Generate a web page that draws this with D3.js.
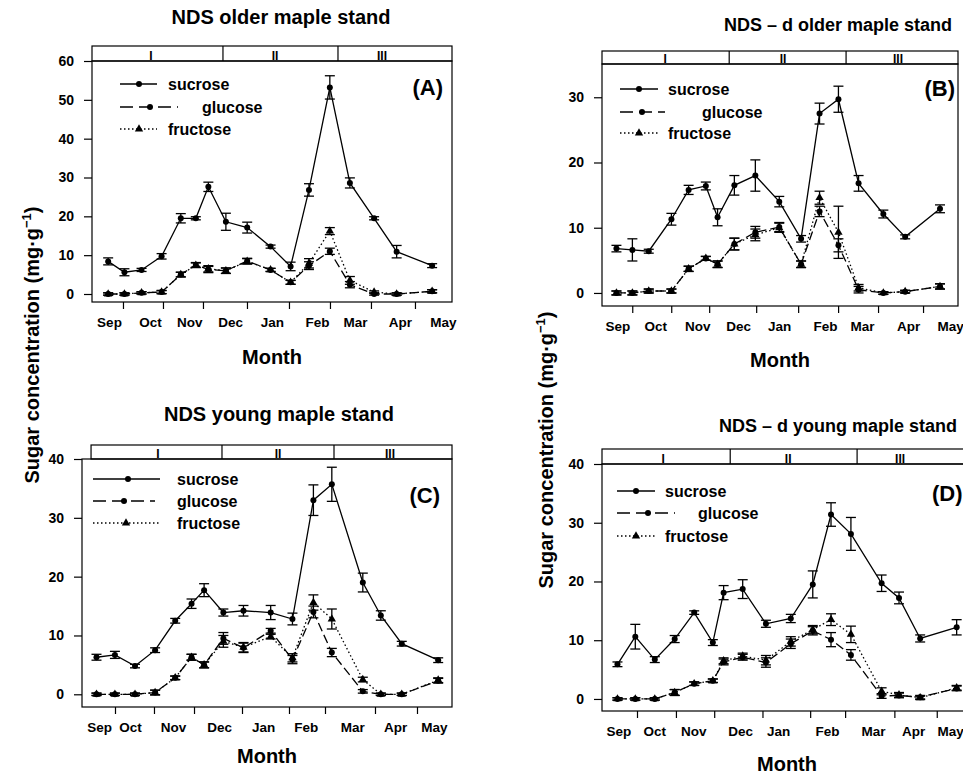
<!DOCTYPE html>
<html>
<head>
<meta charset="utf-8">
<script src="https://cdn.jsdelivr.net/npm/d3@7"></script>
<style>
  body { margin: 0; background: #fff; }
  svg text { font-family: "Liberation Sans", Arial, Helvetica, sans-serif; font-weight: bold; fill: #000; }
</style>
</head>
<body>
<svg id="chart" width="963" height="777"></svg>
<script>
// categories
const monthLabels = ["Sep", "Oct", "Nov", "Dec", "Jan", "Feb", "Mar", "Apr", "May"];
const periodLabels = ["I", "II", "III"];
const seriesNames = ["sucrose", "glucose", "fructose"];

// (A) NDS older maple stand - sample dates (month units, Sep = 0)
const datesA = [-0.02, 0.37, 0.78, 1.26, 1.72, 2.08, 2.38, 2.80, 3.31, 3.87, 4.35, 4.79, 5.29, 5.77, 6.35, 6.89, 7.74];
const sucroseA = [8.4, 5.6, 6.2, 9.7, 19.5, 19.5, 27.6, 18.6, 17.1, 12.2, 7.1, 26.8, 53.2, 28.6, 19.5, 10.9, 7.3];
const sucroseSeA = [0.9, 0.9, 0.4, 0.7, 1.2, 0.4, 1.2, 2.2, 1.4, 0.4, 1.1, 1.6, 3.0, 1.3, 0.4, 1.6, 0.5];
const glucoseA = [0, 0, 0.3, 0.5, 5.0, 7.5, 6.3, 6.0, 8.5, 6.2, 3.0, 7.3, 11.0, 2.4, 0, 0, 0.7];
const glucoseSeA = [0.3, 0.3, 0.3, 0.4, 0.6, 0.6, 0.8, 0.7, 0.7, 0.4, 0.5, 1.0, 0.8, 0.8, 0.3, 0.3, 0.4];
const fructoseA = [0, 0, 0.3, 0.5, 5.0, 7.4, 6.5, 6.0, 8.4, 6.2, 3.0, 7.9, 16.2, 3.5, 0.5, 0, 0.7];
const fructoseSeA = [0.3, 0.3, 0.3, 0.4, 0.6, 0.6, 0.8, 0.7, 0.7, 0.4, 0.5, 1.2, 0.9, 1.0, 0.3, 0.3, 0.4];

// (B) NDS - d older maple stand
const datesB = [-0.02, 0.36, 0.75, 1.29, 1.70, 2.11, 2.39, 2.79, 3.29, 3.86, 4.38, 4.82, 5.27, 5.75, 6.34, 6.86, 7.69];
const sucroseB = [6.8, 6.6, 6.4, 11.3, 15.8, 16.4, 11.6, 16.5, 18.0, 14.0, 8.3, 27.5, 29.7, 16.8, 12.1, 8.6, 12.9];
const sucroseSeB = [0.5, 1.7, 0.3, 0.9, 0.7, 0.6, 1.3, 1.5, 2.4, 0.8, 0.5, 1.6, 2.0, 1.2, 0.6, 0.3, 0.6];
const glucoseB = [0, 0, 0.3, 0.3, 3.7, 5.3, 4.4, 7.5, 9.3, 10.1, 4.4, 12.5, 7.3, 0.5, 0, 0.2, 1.0];
const glucoseSeB = [0.3, 0.3, 0.3, 0.3, 0.4, 0.3, 0.5, 0.9, 0.9, 0.7, 0.5, 0.8, 1.0, 0.5, 0.2, 0.2, 0.4];
const fructoseB = [0, 0, 0.3, 0.3, 3.7, 5.3, 4.4, 7.5, 8.9, 10.0, 4.4, 14.6, 9.3, 0.8, 0, 0.2, 1.0];
const fructoseSeB = [0.3, 0.3, 0.3, 0.3, 0.4, 0.3, 0.5, 0.9, 0.9, 0.7, 0.5, 1.0, 4.0, 0.5, 0.2, 0.2, 0.4];

// (C) NDS young maple stand
const datesC = [-0.06, 0.38, 0.86, 1.34, 1.82, 2.21, 2.51, 2.97, 3.45, 4.10, 4.62, 5.12, 5.56, 6.30, 6.73, 7.23, 8.10];
const sucroseC = [6.3, 6.7, 4.8, 7.5, 12.5, 15.4, 17.7, 13.9, 14.2, 13.9, 12.8, 33.0, 35.7, 19.0, 13.4, 8.6, 5.8];
const sucroseSeC = [0.5, 0.6, 0.3, 0.4, 0.4, 0.8, 1.1, 0.6, 0.9, 1.2, 1.0, 2.6, 2.9, 1.6, 0.8, 0.4, 0.4];
const glucoseC = [0, 0, 0, 0.3, 2.8, 6.3, 5.0, 9.5, 7.9, 10.8, 5.9, 14.0, 7.1, 0.5, 0, 0, 2.3];
const glucoseSeC = [0.2, 0.2, 0.2, 0.4, 0.3, 0.5, 0.5, 1.0, 0.8, 0.4, 0.7, 1.0, 0.7, 0.3, 0.2, 0.2, 0.4];
const fructoseC = [0, 0, 0, 0.3, 2.8, 6.3, 5.0, 9.0, 8.0, 9.8, 6.2, 15.6, 12.8, 2.5, 0, 0, 2.4];
const fructoseSeC = [0.2, 0.2, 0.2, 0.4, 0.3, 0.5, 0.5, 1.0, 0.8, 0.4, 0.7, 1.3, 1.7, 0.4, 0.2, 0.2, 0.4];

// (D) NDS - d young maple stand
const datesD = [-0.02, 0.41, 0.88, 1.36, 1.83, 2.28, 2.54, 3.00, 3.56, 4.16, 4.69, 5.13, 5.61, 6.35, 6.77, 7.28, 8.16];
const sucroseD = [5.9, 10.6, 6.7, 10.2, 14.7, 9.6, 18.1, 18.7, 12.8, 13.7, 19.5, 31.4, 28.1, 19.7, 17.2, 10.3, 12.2];
const sucroseSeD = [0.4, 2.1, 0.5, 0.6, 0.3, 0.5, 1.2, 1.6, 0.6, 0.7, 2.3, 2.0, 2.8, 1.4, 1.0, 0.6, 1.3];
const glucoseD = [0, 0, 0, 1.1, 2.6, 3.1, 6.3, 7.1, 6.2, 9.4, 11.6, 10.1, 7.5, 0.5, 0.6, 0.3, 1.8];
const glucoseSeD = [0.2, 0.2, 0.2, 0.5, 0.3, 0.3, 0.5, 0.5, 0.8, 0.8, 0.7, 1.2, 0.9, 0.4, 0.4, 0.3, 0.4];
const fructoseD = [0, 0, 0, 1.1, 2.6, 3.1, 6.5, 7.3, 6.6, 9.8, 11.8, 13.5, 11.0, 1.3, 0.7, 0.2, 1.9];
const fructoseSeD = [0.2, 0.2, 0.2, 0.5, 0.3, 0.3, 0.5, 0.5, 0.8, 0.8, 0.7, 1.0, 1.4, 0.6, 0.4, 0.3, 0.4];

// axis tick / label positions (month units)
const tickPosA = [0.335, 1.293, 2.251, 3.305, 4.311, 5.293, 6.275, 7.329];
const labelPosA = [0, 0.98, 1.92, 2.90, 3.90, 4.98, 5.89, 6.97, 8];
const tickPosB = [0.357, 1.286, 2.190, 3.310, 4.310, 5.262, 6.214, 7.286];
const labelPosB = [0, 0.905, 1.905, 2.881, 3.857, 4.952, 5.833, 6.929, 7.93];
const tickPosC = [0.382, 1.313, 2.269, 3.415, 4.537, 5.397, 6.591, 7.594];
const labelPosC = [0, 0.74, 1.77, 2.87, 3.92, 4.94, 6.05, 7.07, 8];
const tickPosD = [0.451, 1.390, 2.313, 3.477, 4.627, 5.470, 6.658, 7.680];
const labelPosD = [0, 0.867, 1.807, 2.940, 3.855, 5.036, 6.145, 7.108, 8];

// period strip breaks and label positions (month units)
const stripBreaksA = [2.73, 5.485], stripLabelPosA = [1.006, 3.976, 6.539];
const stripBreaksB = [2.667, 5.452], stripLabelPosB = [1.143, 3.952, 6.69];
const stripBreaksC = [2.937, 5.612], stripLabelPosC = [1.409, 4.275, 6.95];
const stripBreaksD = [2.699, 5.759], stripLabelPosD = [1.084, 4.096, 6.795];

const yTicks60 = [0, 10, 20, 30, 40, 50, 60];
const yTicks30 = [0, 10, 20, 30];
const yTicks40 = [0, 10, 20, 30, 40];

// layout of the four panels
const panels = [
  {
    tag: "(A)", title: "NDS older maple stand", titleX: 281, titleY: 24, titleSize: 20,
    left: 92, right: 452, top: 61, bottom: 302, stripTop: 46,
    xDomain: [-0.407, 8.216], yDomain: [-2.06, 60], yTicks: yTicks60,
    dates: datesA, ticks: tickPosA, labels: labelPosA, stripStart: -0.407,
    stripBreaks: stripBreaksA, stripLabels: stripLabelPosA,
    values: [[sucroseA, sucroseSeA], [glucoseA, glucoseSeA], [fructoseA, fructoseSeA]],
    legend: { rows: [84, 107, 129], lines: [[120, 157], [120, 178], [120, 157]], marks: [139, 150, 139], texts: [168, 202, 168] },
    tagX: 443, tagY: 95, tagAnchor: "end", monthY: 364
  },
  {
    tag: "(B)", title: "NDS \u2013 d older maple stand", titleX: 838, titleY: 31, titleSize: 18,
    left: 602, right: 958, top: 64, bottom: 306, stripTop: 51,
    xDomain: [-0.364, 8.119], yDomain: [-2.0, 35.1], yTicks: yTicks30,
    dates: datesB, ticks: tickPosB, labels: labelPosB, stripStart: -0.364,
    stripBreaks: stripBreaksB, stripLabels: stripLabelPosB,
    values: [[sucroseB, sucroseSeB], [glucoseB, glucoseSeB], [fructoseB, fructoseSeB]],
    legend: { rows: [89, 112, 133], lines: [[620, 658], [620, 665], [620, 658]], marks: [639, 642, 639], texts: [668, 702, 668] },
    tagX: 955, tagY: 96, tagAnchor: "end", monthY: 367
  },
  {
    tag: "(C)", title: "NDS young maple stand", titleX: 279, titleY: 421, titleSize: 20,
    left: 82, right: 452, top: 459, bottom: 707, stripTop: 445,
    xDomain: [-0.406, 8.43], yDomain: [-2.16, 40], yTicks: yTicks40,
    dates: datesC, ticks: tickPosC, labels: labelPosC, stripStart: -0.19,
    stripBreaks: stripBreaksC, stripLabels: stripLabelPosC,
    values: [[sucroseC, sucroseSeC], [glucoseC, glucoseSeC], [fructoseC, fructoseSeC]],
    legend: { rows: [479, 501, 523], lines: [[93, 160], [93, 155], [93, 160]], marks: [128, 124, 126], texts: [177, 177, 177] },
    tagX: 440, tagY: 503, tagAnchor: "end", monthY: 763
  },
  {
    tag: "(D)", title: "NDS \u2013 d young maple stand", titleX: 838, titleY: 432, titleSize: 18,
    left: 602, right: 972, top: 464, bottom: 711, stripTop: 449,
    xDomain: [-0.393, 8.53], yDomain: [-2.05, 40], yTicks: yTicks40,
    dates: datesD, ticks: tickPosD, labels: labelPosD, stripStart: -0.393,
    stripBreaks: stripBreaksD, stripLabels: stripLabelPosD,
    values: [[sucroseD, sucroseSeD], [glucoseD, glucoseSeD], [fructoseD, fructoseSeD]],
    legend: { rows: [491, 513, 536], lines: [[617, 655], [617, 675], [617, 655]], marks: [636, 648, 636], texts: [665, 698, 665] },
    tagX: 932, tagY: 501, tagAnchor: "start", monthY: 771
  }
];

// line styles: sucrose solid, glucose long dash, fructose dotted
const dashes = [null, "9,4", "1.5,2.5"];
const markerTypes = ["circle", "circle", "triangle"];

const svg = d3.select("#chart");

function drawMarker(g, type, cx, cy) {
  if (type === "triangle") {
    g.append("path")
      .attr("d", d3.symbol(d3.symbolTriangle, 30)())
      .attr("transform", `translate(${cx},${cy})`)
      .attr("fill", "#000");
  } else {
    g.append("circle").attr("cx", cx).attr("cy", cy).attr("r", 3).attr("fill", "#000");
  }
}

function renderPanel(p) {
  const g = svg.append("g");

  const x = d3.scaleLinear().domain(p.xDomain).range([p.left, p.right]);
  const y = d3.scaleLinear().domain(p.yDomain).range([p.bottom, p.top]);

  // titulo
  g.append("text")
    .attr("x", p.titleX).attr("y", p.titleY)
    .attr("text-anchor", "middle")
    .style("font-size", p.titleSize + "px")
    .text(p.title);

  // period strip
  g.append("rect")
    .attr("x", x(p.stripStart)).attr("y", p.stripTop)
    .attr("width", p.right - x(p.stripStart)).attr("height", p.top - p.stripTop)
    .attr("fill", "none").attr("stroke", "#000").attr("stroke-width", 1.2);

  g.selectAll(".brk")
    .data(p.stripBreaks)
    .enter().append("line")
    .attr("x1", d => x(d)).attr("x2", d => x(d))
    .attr("y1", p.stripTop).attr("y2", p.top)
    .attr("stroke", "#000").attr("stroke-width", 1.2);

  g.selectAll(".plab")
    .data(p.stripLabels)
    .enter().append("text")
    .attr("x", d => x(d)).attr("y", p.top - 1.5)
    .attr("text-anchor", "middle")
    .style("font-size", "12px")
    .text((d, i) => periodLabels[i]);

  // plot box
  g.append("rect")
    .attr("x", p.left).attr("y", p.top)
    .attr("width", p.right - p.left).attr("height", p.bottom - p.top)
    .attr("fill", "none").attr("stroke", "#000").attr("stroke-width", 1.2);

  // eixo Y
  g.append("g")
    .attr("transform", `translate(${p.left},0)`)
    .call(d3.axisLeft(y).tickValues(p.yTicks).tickSize(8).tickPadding(10).tickFormat(d3.format("d")))
    .call(a => a.select(".domain").remove())
    .call(a => a.selectAll("line").attr("stroke-width", 1.2))
    .call(a => a.selectAll("text").style("font-size", "14px")
      .style("font-family", "'Liberation Sans', Arial, sans-serif").style("font-weight", "bold"));

  // eixo X: ticks
  g.append("g")
    .attr("transform", `translate(0,${p.bottom})`)
    .call(d3.axisBottom(x).tickValues(p.ticks).tickSize(7).tickFormat(""))
    .call(a => a.select(".domain").remove())
    .call(a => a.selectAll("line").attr("stroke-width", 1.2));

  // eixo X: month names
  g.append("g")
    .attr("transform", `translate(0,${p.bottom})`)
    .call(d3.axisBottom(x).tickValues(p.labels).tickSize(0).tickPadding(15)
      .tickFormat((d, i) => monthLabels[i]))
    .call(a => a.select(".domain").remove())
    .call(a => a.selectAll("text").style("font-size", "13.5px")
      .style("font-family", "'Liberation Sans', Arial, sans-serif").style("font-weight", "bold"));

  g.append("text")
    .attr("x", (p.left + p.right) / 2).attr("y", p.monthY)
    .attr("text-anchor", "middle")
    .style("font-size", "20px")
    .text("Month");

  // series, drawn fructose -> glucose -> sucrose
  [2, 1, 0].forEach(s => {
    const [vals, se] = p.values[s];
    const pts = vals.map((v, i) => ({ x: p.dates[i], v: v, se: se[i] }));

    const line = d3.line().x(d => x(d.x)).y(d => y(d.v));
    const path = g.append("path")
      .datum(pts)
      .attr("d", line)
      .attr("fill", "none")
      .attr("stroke", "#000")
      .attr("stroke-width", 1.3);
    if (dashes[s]) path.attr("stroke-dasharray", dashes[s]);

    const eb = g.append("g").attr("stroke", "#000").attr("stroke-width", 1.3);
    pts.forEach(d => {
      const cx = x(d.x), y1 = y(d.v - d.se), y2 = y(d.v + d.se);
      eb.append("line").attr("x1", cx).attr("x2", cx).attr("y1", y1).attr("y2", y2);
      eb.append("line").attr("x1", cx - 5).attr("x2", cx + 5).attr("y1", y1).attr("y2", y1);
      eb.append("line").attr("x1", cx - 5).attr("x2", cx + 5).attr("y1", y2).attr("y2", y2);
    });

    pts.forEach(d => drawMarker(g, markerTypes[s], x(d.x), y(d.v)));
  });

  // legenda
  const lg = p.legend;
  seriesNames.forEach((name, s) => {
    const ly = lg.rows[s];
    const ln = g.append("line")
      .attr("x1", lg.lines[s][0]).attr("x2", lg.lines[s][1])
      .attr("y1", ly).attr("y2", ly)
      .attr("stroke", "#000").attr("stroke-width", 1.3);
    if (dashes[s]) ln.attr("stroke-dasharray", s === 1 ? "13,6" : dashes[s]);
    drawMarker(g, markerTypes[s], lg.marks[s], ly);
    g.append("text")
      .attr("x", lg.texts[s]).attr("y", ly + 5.5)
      .style("font-size", "16px")
      .text(name);
  });

  g.append("text")
    .attr("x", p.tagX).attr("y", p.tagY)
    .attr("text-anchor", p.tagAnchor)
    .style("font-size", "22px")
    .text(p.tag);
}

panels.forEach(renderPanel);

// rotulos do eixo Y
[[32, 345], [546, 450]].forEach(([cx, cy]) => {
  const t = svg.append("text")
    .attr("transform", `translate(${cx},${cy}) rotate(-90)`)
    .attr("text-anchor", "middle")
    .attr("dy", "0.35em")
    .style("font-size", "20px");
  t.append("tspan").text("Sugar concentration (mg\u00b7g");
  t.append("tspan").attr("dy", -8).style("font-size", "13px").text("\u22121");
  t.append("tspan").attr("dy", 8).text(")");
});
</script>
</body>
</html>
